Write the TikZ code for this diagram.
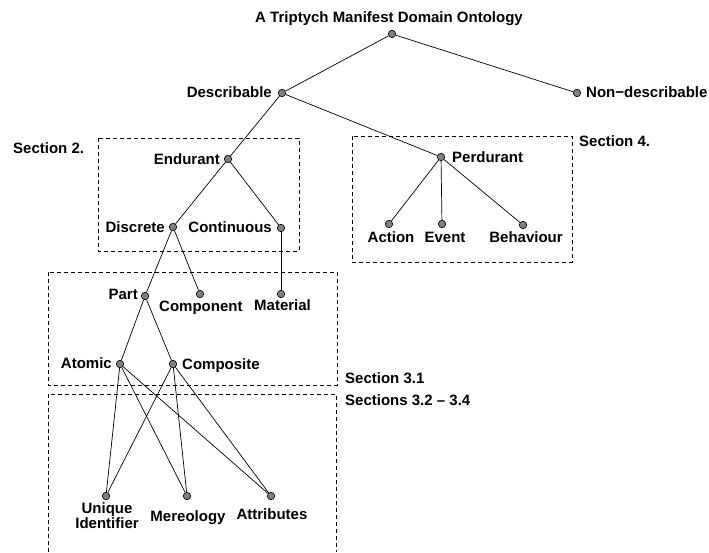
\documentclass[tikz,border=0pt]{standalone}
\usepackage{fontspec}
\setmainfont{Liberation Sans}
\begin{document}
\begin{tikzpicture}[x=1pt,y=-1pt,
  dot/.style={circle,draw=black,fill=gray,line width=0.6pt,minimum size=7.5pt,inner sep=0pt},
  lbl/.style={inner sep=0pt,font=\fontsize{15}{11.7}\selectfont\bfseries},
  edge/.style={line width=0.7pt},
  frame/.style={line width=0.6pt,dash pattern=on 4pt off 3pt}]
\useasboundingbox (0,0) rectangle (709,552);
% frames
\draw[frame] (98,138) rectangle (299,251);
\draw[frame] (352,136) rectangle (572,262);
\draw[frame] (48,272) rectangle (337,385);
\draw[frame] (48,552) -- (48,394) -- (336,394) -- (336,552);
% dots
\node[dot] (root) at (392,34) {};
\node[dot] (desc) at (282,93) {};
\node[dot] (nondesc) at (577,93) {};
\node[dot] (endu) at (228,159) {};
\node[dot] (perd) at (441,157) {};
\node[dot] (disc) at (173,227) {};
\node[dot] (cont) at (281,228) {};
\node[dot] (act) at (389,224) {};
\node[dot] (evt) at (442,224) {};
\node[dot] (beh) at (523,225) {};
\node[dot] (part) at (145,296) {};
\node[dot] (comp) at (200,294) {};
\node[dot] (mat) at (281,294) {};
\node[dot] (atom) at (120,364) {};
\node[dot] (compo) at (173,364) {};
\node[dot] (uid) at (106,496) {};
\node[dot] (mer) at (187,496) {};
\node[dot] (att) at (271,496) {};
% edges
\draw[edge] (root) -- (desc);
\draw[edge] (root) -- (nondesc);
\draw[edge] (desc) -- (endu);
\draw[edge] (desc) -- (perd);
\draw[edge] (endu) -- (disc);
\draw[edge] (endu) -- (cont);
\draw[edge] (perd) -- (act);
\draw[edge] (perd) -- (evt);
\draw[edge] (perd) -- (beh);
\draw[edge] (disc) -- (part);
\draw[edge] (disc) -- (comp);
\draw[edge] (cont) -- (mat);
\draw[edge] (part) -- (atom);
\draw[edge] (part) -- (compo);
\draw[edge] (atom) -- (uid);
\draw[edge] (atom) -- (mer);
\draw[edge] (atom) -- (att);
\draw[edge] (compo) -- (uid);
\draw[edge] (compo) -- (mer);
\draw[edge] (compo) -- (att);
% labels
\node[lbl,anchor=base] (tTitle) at (389,22.5) {A Triptych Manifest Domain Ontology};
\node[lbl,anchor=base east] (tDesc) at (272,97.3) {Describable};
\node[lbl,anchor=base west] (tNon) at (586,97) {Non−describable};
\node[lbl,anchor=base west] (tS2) at (13,153) {Section 2.};
\node[lbl,anchor=base east] (tEndu) at (220,164) {Endurant};
\node[lbl,anchor=base east] (tDisc) at (165,232.3) {Discrete};
\node[lbl,anchor=base east] (tCont) at (272,232.3) {Continuous};
\node[lbl,anchor=base west] (tPerd) at (452,162.7) {Perdurant};
\node[lbl,anchor=base west] (tS4) at (579,146.5) {Section 4.};
\node[lbl,anchor=base] (tAct) at (391,242.5) {Action};
\node[lbl,anchor=base] (tEvt) at (445,242.5) {Event};
\node[lbl,anchor=base] (tBeh) at (526,242.5) {Behaviour};
\node[lbl,anchor=base east] (tPart) at (138,299.3) {Part};
\node[lbl,anchor=base west] (tComp) at (159,311.7) {Component};
\node[lbl,anchor=base west] (tMat) at (254,310.7) {Material};
\node[lbl,anchor=base east] (tAtom) at (112,368.3) {Atomic};
\node[lbl,anchor=base west] (tCompo) at (182,369) {Composite};
\node[lbl,align=center] (tUid) at (107,515.8) {Unique\\Identifier};
\node[lbl,anchor=base] (tMer) at (188,521) {Mereology};
\node[lbl,anchor=base] (tAtt) at (272,519) {Attributes};
\node[lbl,anchor=base west] (tS31) at (345,383.5) {Section 3.1};
\node[lbl,anchor=base west] (tS32) at (345,405) {Sections 3.2 – 3.4};
\end{tikzpicture}
\end{document}
